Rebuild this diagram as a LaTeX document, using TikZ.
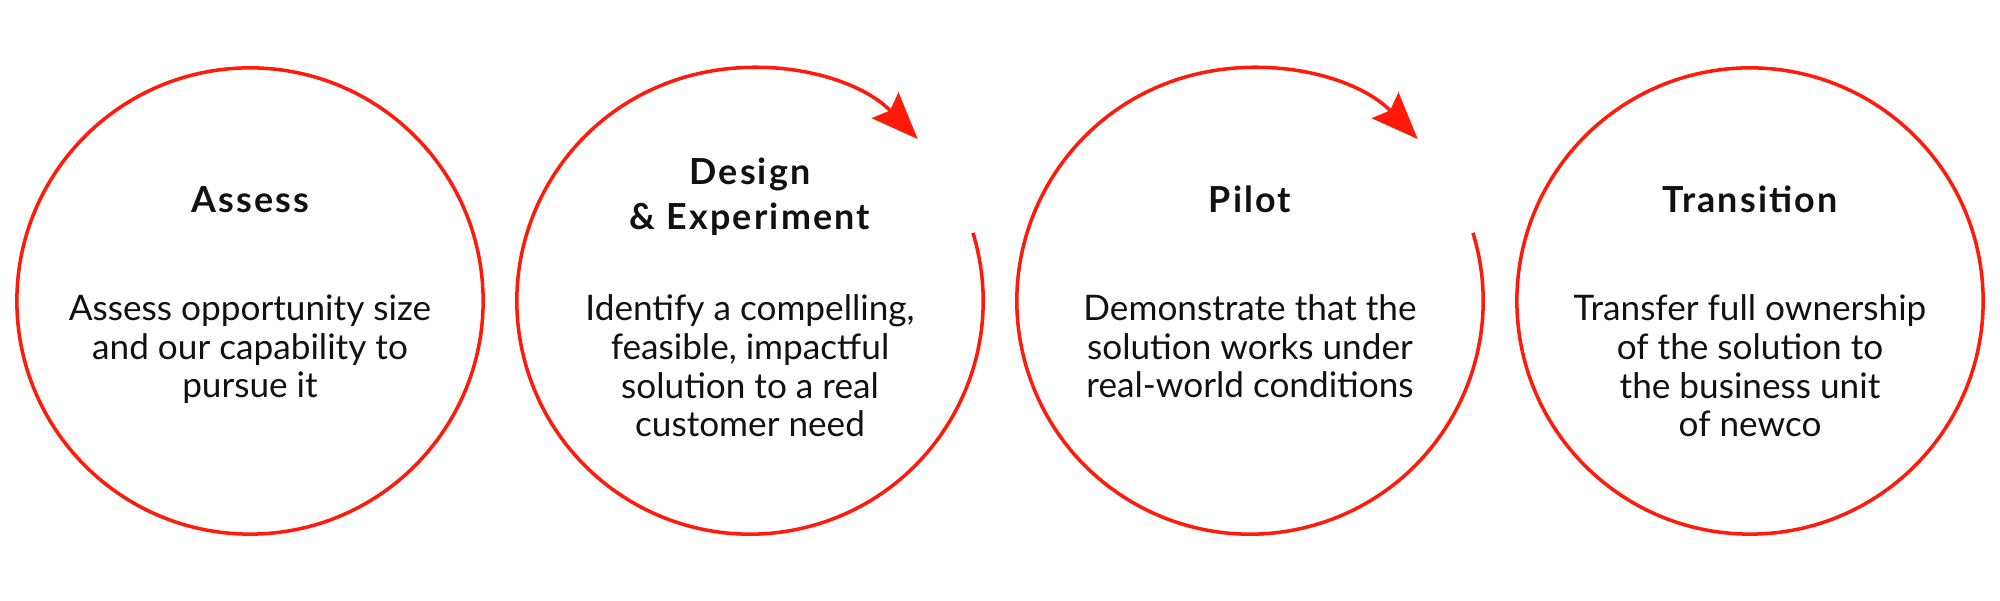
\documentclass[tikz,border=0pt]{standalone}
\usepackage{fontspec}
\setmainfont{Lato}
\newfontfamily\headfont[LetterSpace=6]{Lato}
\usetikzlibrary{arrows.meta, positioning}
\definecolor{sred}{HTML}{FF1A0A}
\definecolor{sink}{HTML}{111111}
\tikzset{
  >=Stealth,
  stage/.style={circle, minimum size=4.66cm, inner sep=0pt, outer sep=0pt},
  ring/.style={draw=sred, line width=1pt},
  flow/.style={draw=sred, line width=1pt,
    -{Stealth[length=13.3pt, width=10.5pt, inset=2pt, sred]}},
  head/.style={font=\headfont\bfseries\fontsize{10.2}{12.8}\selectfont,
    text=sink, align=center, anchor=base, inner sep=0pt},
  body/.style={font=\fontsize{10}{11}\selectfont,
    text=sink, align=center, anchor=base, inner sep=0pt}
}

\begin{document}
\begin{tikzpicture}[x=0.01cm, y=0.01cm]
  \useasboundingbox (0,0) rectangle (2000,601);

  % the four stages
  \node[stage,ring] (assess) at (250,300) {};
  \node[stage]      (design) at (750,300) {};
  \node[stage]      (pilot)  at (1250,300) {};
  \node[stage,ring] (trans)  at (1750,300) {};

  % open rings with arrows
  \draw[flow] (design.17) arc[start angle=17, end angle=-316, radius=2.33cm];
  \draw[flow] (pilot.17)  arc[start angle=17, end angle=-316, radius=2.33cm];

  % base = last line
  \node[head] (assesshead) at (250,388) {Assess};
  \node[head] (designhead) at (750,371) {Design\\\& Experiment};
  \node[head] (pilothead)  at (1250,388) {Pilot};
  \node[head] (transhead)  at (1750,388) {Transition};

  \node[body] (assessbody) at (250,203)
    {Assess opportunity size\\and our capability to\\pursue it};
  \node[body] (designbody) at (750,164)
    {Identify a compelling,\\feasible, impactful\\solution to a real\\customer need};
  \node[body] (pilotbody) at (1250,203)
    {Demonstrate that the\\solution works under\\real-world conditions};
  \node[body] (transbody) at (1750,164)
    {Transfer full ownership\\of the solution to\\the business unit\\of newco};
\end{tikzpicture}
\end{document}
